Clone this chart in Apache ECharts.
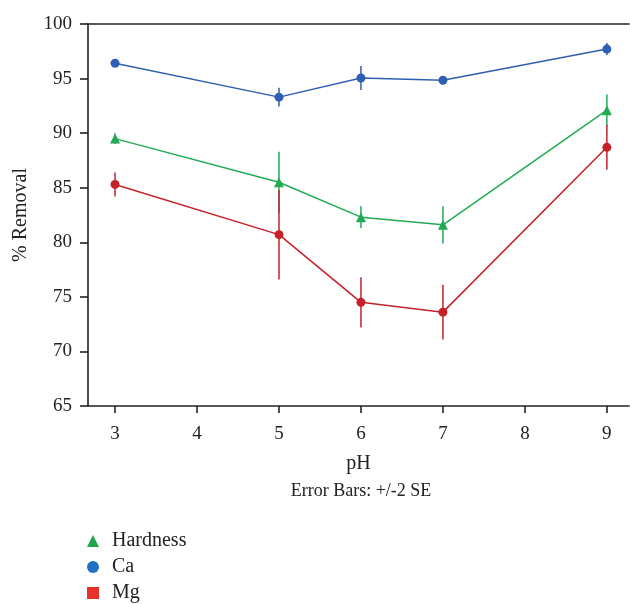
<!DOCTYPE html>
<html>
<head>
<meta charset="utf-8">
<script src="https://cdn.jsdelivr.net/npm/echarts@6/dist/echarts.min.js"></script>
<style>
  html, body { margin: 0; padding: 0; background: #fff; }
  #main { width: 630px; height: 604px; }
</style>
</head>
<body>
<div id="main"></div>
<script>
var chartDom = document.getElementById('main');
var myChart = echarts.init(chartDom);
var option;

// pH values
let ph = [3, 5, 6, 7, 9];
// % removal, with +/- 2 SE
let hardness = [89.5, 85.5, 82.3, 81.6, 92.1];
let hardnessErr = [0.5, 2.8, 1.0, 1.7, 1.45];
let ca = [96.4, 93.3, 95.05, 94.85, 97.7];
let caErr = [0.15, 0.85, 1.1, 0.15, 0.55];
let mg = [85.3, 80.7, 74.5, 73.6, 88.7];
let mgErr = [1.1, 4.1, 2.3, 2.5, 2.05];
let xTicks = [3, 4, 5, 6, 7, 8, 9];

const font = 'Liberation Serif';
const green = '#22aa55';
const blue = '#2f5fb3';
const red = '#c42128';

function points(vals) {
  return ph.map((x, i) => [x, vals[i]]);
}
function errData(vals, errs) {
  return ph.map((x, i) => [x, vals[i] - errs[i], vals[i] + errs[i]]);
}
function errSeries(name, vals, errs, color) {
  return {
    name: name,
    type: 'custom',
    z: 1,
    silent: true,
    renderItem: function (params, api) {
      let lo = api.coord([api.value(0), api.value(1)]);
      let hi = api.coord([api.value(0), api.value(2)]);
      return {
        type: 'line',
        shape: { x1: lo[0], y1: lo[1], x2: hi[0], y2: hi[1] },
        style: { stroke: color, lineWidth: 1.5 }
      };
    },
    encode: { x: 0, y: [1, 2] },
    data: errData(vals, errs)
  };
}

option = {
  animation: false,
  textStyle: { fontFamily: font },
  grid: { left: 88, right: 1, top: 24, bottom: 198, containLabel: false },
  legend: {
    orient: 'vertical',
    left: 87,
    top: 531,
    padding: 0,
    itemWidth: 12,
    itemHeight: 12,
    itemGap: 6,
    textStyle: { fontFamily: font, fontSize: 20, color: '#222', padding: [0, 0, 0, 8] },
    data: [
      { name: 'Hardness', icon: 'triangle', itemStyle: { color: '#1fa64a' } },
      { name: 'Ca', icon: 'circle', itemStyle: { color: '#1f70c1' } },
      { name: 'Mg', icon: 'rect', itemStyle: { color: '#e8302c' } }
    ]
  },
  graphic: [
    {
      type: 'text',
      x: 361,
      y: 491,
      style: {
        text: 'Error Bars: +/-2 SE',
        font: '18px "Liberation Serif"',
        fill: '#222',
        align: 'center',
        verticalAlign: 'middle'
      }
    }
  ],
  xAxis: [
    {
      type: 'value',
      min: 2.67,
      max: 9.27,
      interval: 1,
      name: 'pH',
      nameLocation: 'middle',
      nameGap: 48,
      nameTextStyle: { fontFamily: font, fontSize: 20, color: '#222' },
      axisLine: { show: true, lineStyle: { color: '#222', width: 1.6 } },
      axisTick: {
        show: true, length: 7, lineStyle: { color: '#222', width: 1.6 },
        customValues: xTicks
      },
      axisLabel: {
        fontFamily: font, fontSize: 19, color: '#222', margin: 19,
        customValues: xTicks
      },
      splitLine: { show: false }
    },
    {
      type: 'value',
      position: 'top',
      min: 2.67,
      max: 9.27,
      axisLine: { show: true, lineStyle: { color: '#222', width: 1.6 } },
      axisTick: { show: false },
      axisLabel: { show: false },
      splitLine: { show: false }
    }
  ],
  yAxis: {
    type: 'value',
    min: 65,
    max: 100,
    interval: 5,
    name: '% Removal',
    nameLocation: 'middle',
    nameGap: 57,
    nameTextStyle: { fontFamily: font, fontSize: 20, color: '#222' },
    axisLine: { show: true, lineStyle: { color: '#222', width: 1.6 } },
    axisTick: { show: true, length: 8, lineStyle: { color: '#222', width: 1.6 } },
    axisLabel: { fontFamily: font, fontSize: 19, color: '#222', margin: 16 },
    splitLine: { show: false }
  },
  series: [
    errSeries('Hardness err', hardness, hardnessErr, green),
    errSeries('Ca err', ca, caErr, blue),
    errSeries('Mg err', mg, mgErr, red),
    {
      name: 'Hardness',
      type: 'line',
      z: 3,
      data: points(hardness),
      symbol: 'triangle',
      symbolSize: 10,
      lineStyle: { color: green, width: 1.5 },
      itemStyle: { color: green }
    },
    {
      name: 'Ca',
      type: 'line',
      z: 3,
      data: points(ca),
      symbol: 'circle',
      symbolSize: 9,
      lineStyle: { color: blue, width: 1.5 },
      itemStyle: { color: blue }
    },
    {
      name: 'Mg',
      type: 'line',
      z: 3,
      data: points(mg),
      symbol: 'circle',
      symbolSize: 9,
      lineStyle: { color: red, width: 1.5 },
      itemStyle: { color: red }
    }
  ]
};

option && myChart.setOption(option);
</script>
</body>
</html>
